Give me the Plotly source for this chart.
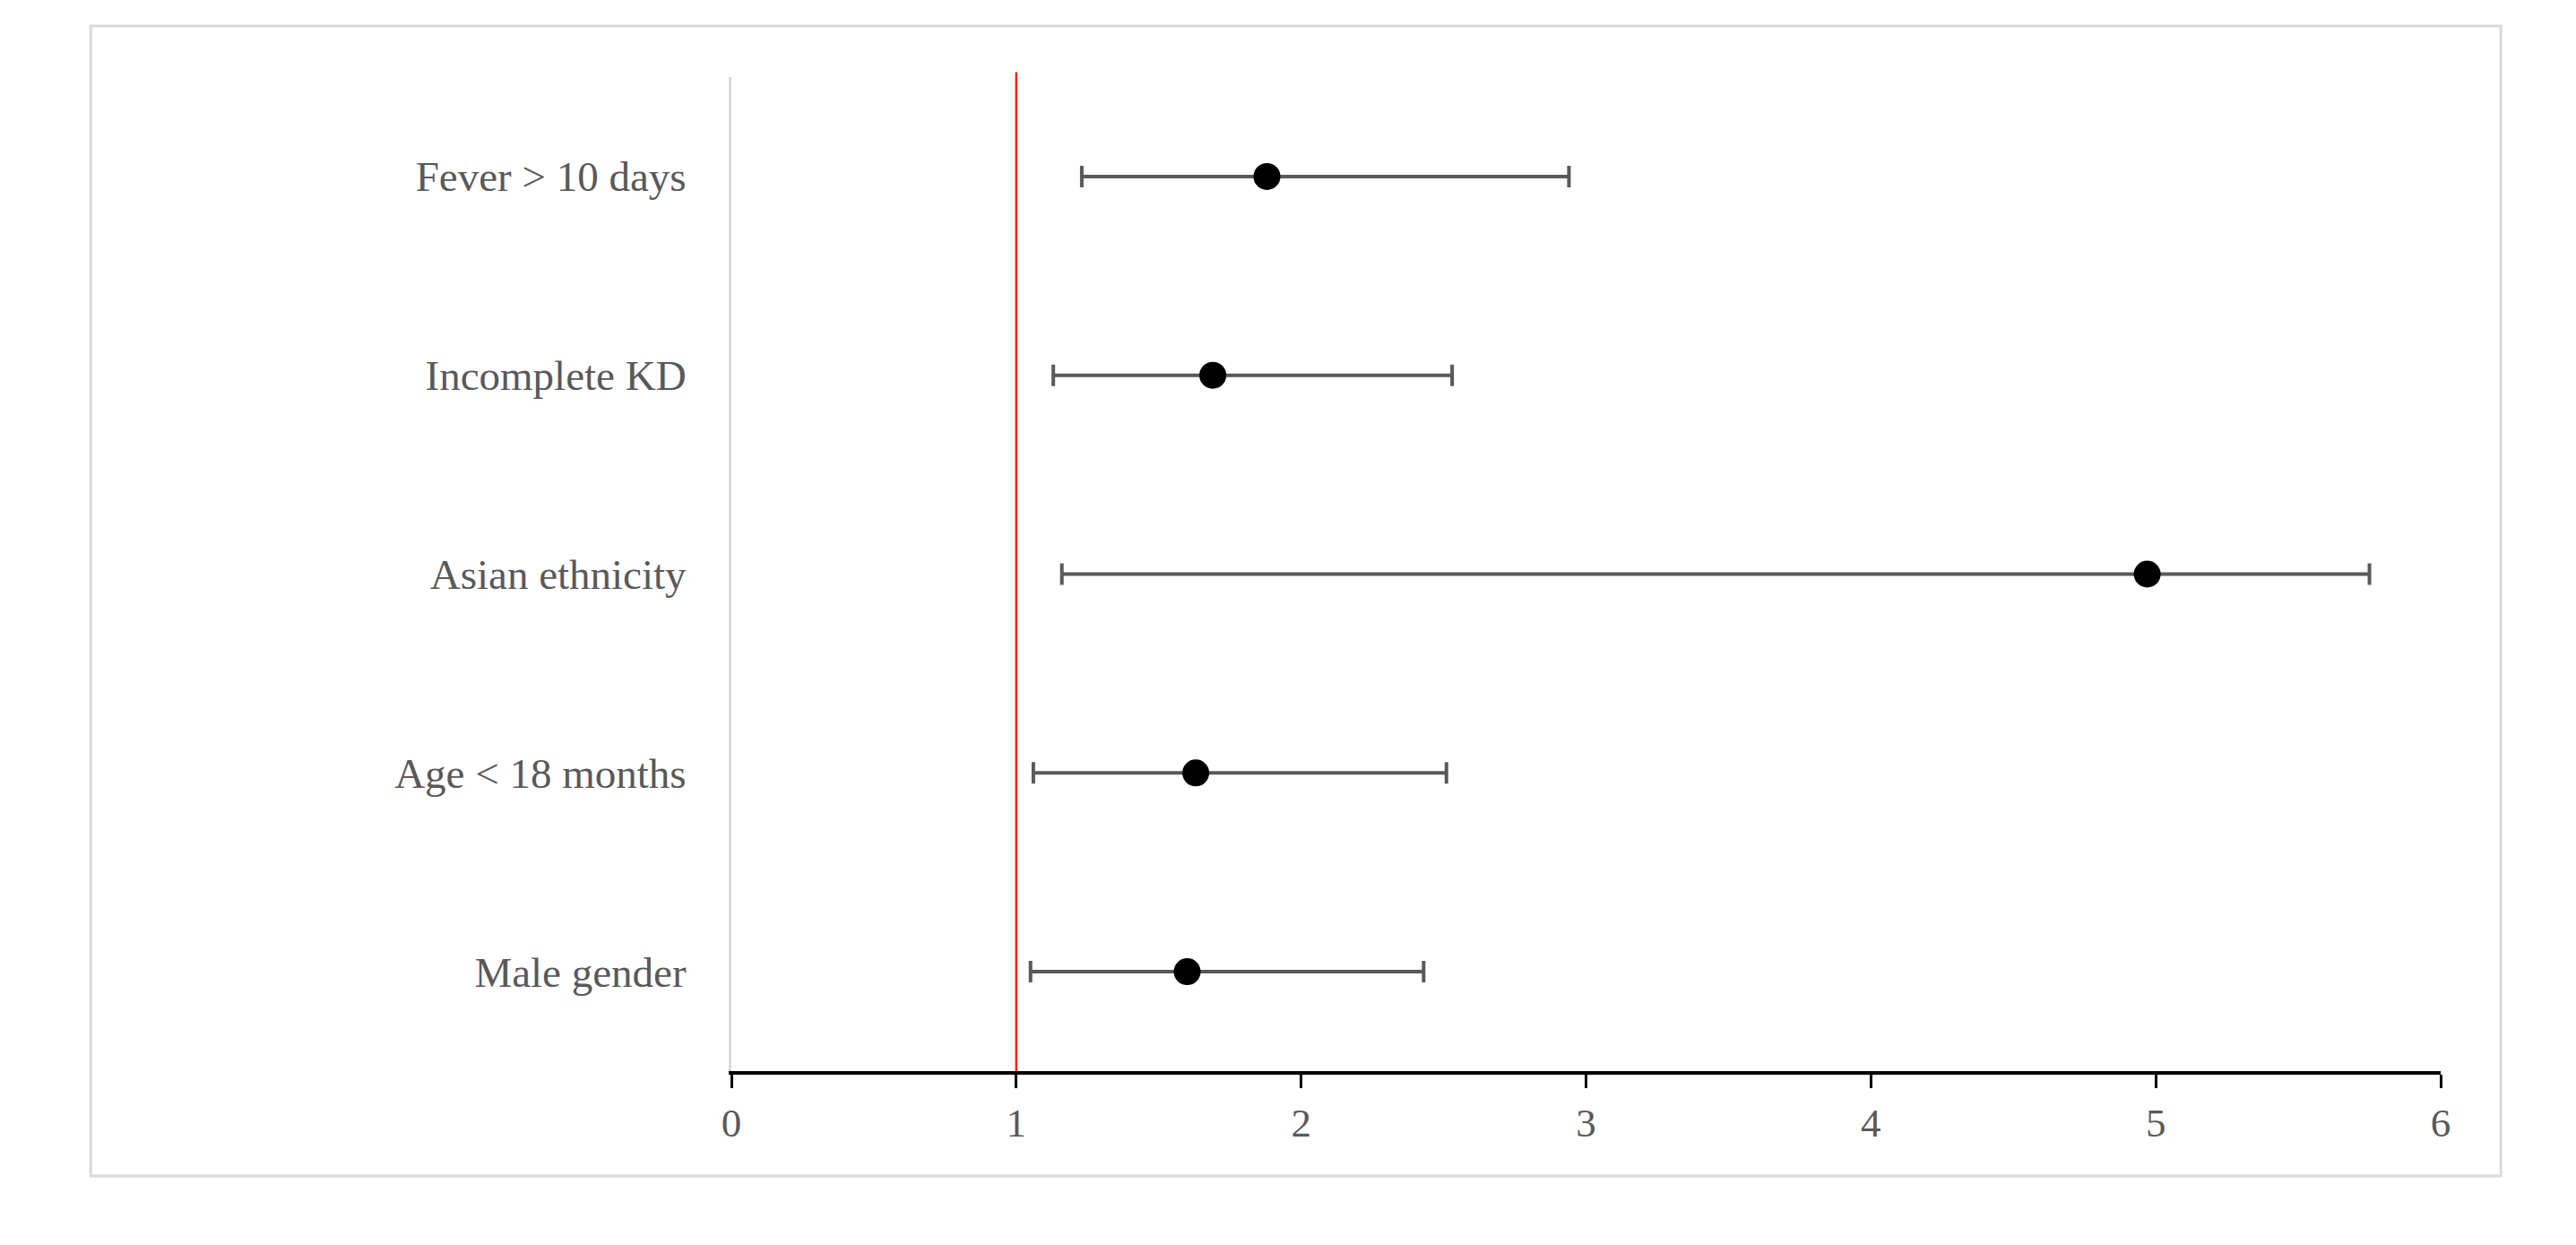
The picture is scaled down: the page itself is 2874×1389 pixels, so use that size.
import plotly.graph_objects as go

# forest plot data (odds ratio with 95% CI), bottom to top
factors = ["Male gender", "Age < 18 months", "Asian ethnicity", "Incomplete KD", "Fever > 10 days"]
odds = [1.60, 1.63, 4.97, 1.69, 1.88]
ci_low = [1.05, 1.06, 1.16, 1.13, 1.23]
ci_high = [2.43, 2.51, 5.75, 2.53, 2.94]
x_ticks = [0, 1, 2, 3, 4, 5, 6]

ypos = [i + 0.5 for i in range(len(factors))]
err_plus = [h - o for h, o in zip(ci_high, odds)]
err_minus = [o - l for o, l in zip(odds, ci_low)]

fig = go.Figure()
fig.add_trace(go.Scatter(
    x=odds, y=ypos, mode="markers",
    marker=dict(color="black", size=30),
    error_x=dict(type="data", symmetric=False, array=err_plus, arrayminus=err_minus,
                 color="#595959", thickness=4, width=12),
    showlegend=False,
))

# reference line at OR = 1
fig.add_shape(type="line", xref="x", yref="paper", x0=1, x1=1, y0=0, y1=1.005,
              line=dict(color="#ff2000", width=2.5), layer="below")
# outer chart border
fig.add_shape(type="rect", xref="paper", yref="paper", x0=-0.3748, x1=1.0352, y0=-0.1055, y1=1.0514,
              line=dict(color="#d9d9d9", width=3))

font = "Liberation Serif, Times New Roman, serif"
fig.update_layout(
    width=2874, height=1389,
    margin=dict(l=808, r=159, t=78, b=202),
    paper_bgcolor="white", plot_bgcolor="white",
    font=dict(family=font, size=48, color="#595959"),
    xaxis=dict(range=[0, 6], tickvals=x_ticks, showgrid=False, zeroline=False,
               showline=True, linecolor="black", linewidth=4,
               ticks="outside", ticklen=15, tickwidth=3, tickcolor="black",
               tickfont=dict(size=45, color="#595959")),
    yaxis=dict(range=[0, 5], tickvals=ypos, ticktext=factors, showgrid=False, zeroline=False,
               showline=True, linecolor="#d9d9d9", linewidth=3, ticks="",
               ticklabelstandoff=38, tickfont=dict(size=47, color="#595959")),
)

fig.write_html("out.html")
